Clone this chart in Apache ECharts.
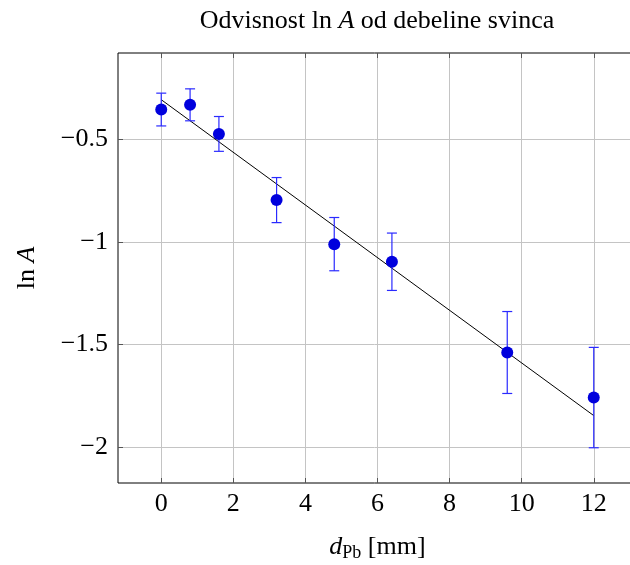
<!DOCTYPE html>
<html>
<head>
<meta charset="utf-8">
<script src="https://cdn.jsdelivr.net/npm/echarts@6/dist/echarts.min.js"></script>
<style>
html,body{margin:0;padding:0;background:#fff;}
#c{width:630px;height:565px;}
</style>
</head>
<body>
<div id="c"></div>
<script>
// Data
const thickness = [0, 0.8, 1.6, 3.2, 4.8, 6.4, 9.6, 12];
const lnA = [-0.353, -0.330, -0.472, -0.795, -1.010, -1.096, -1.539, -1.759];
const lnAErr = [0.080, 0.078, 0.085, 0.110, 0.130, 0.140, 0.200, 0.245];
const fitX = [0, 12];
const fitY = [-0.305, -1.847];
const xTicks = [0, 2, 4, 6, 8, 10, 12];
const yTicks = [-2, -1.5, -1, -0.5];

const FONT = 'Liberation Serif';
const FS = 26;
const fmtNum = v => (v < 0 ? '\u2212' + Math.abs(v) : String(v));

const pts = thickness.map((x, i) => [x, lnA[i]]);
const errData = thickness.map((x, i) => [x, lnA[i] - lnAErr[i], lnA[i] + lnAErr[i]]);
const fitData = fitX.map((x, i) => [x, fitY[i]]);

const chart = echarts.init(document.getElementById('c'), null, {renderer: 'canvas'});
const tickStyle = {show: true, inside: true, length: 5, lineStyle: {color: '#555', width: 1}};
chart.setOption({
  animation: false,
  backgroundColor: '#fff',
  textStyle: {fontFamily: FONT},
  graphic: [{
    type: 'text',
    x: 377, y: 21,
    style: {
      text: 'Odvisnost ln {i|A} od debeline svinca',
      fontFamily: FONT, fontSize: FS, fill: '#000',
      align: 'center', verticalAlign: 'middle',
      rich: {i: {fontStyle: 'italic', fontFamily: FONT, fontSize: FS}}
    }
  }],
  grid: {left: 118, top: 53, height: 430, width: 519, outerBoundsMode: 'none', containLabel: false,
    show: true, borderColor: '#000', borderWidth: 1, backgroundColor: 'transparent'},
  xAxis: [{
    type: 'value', min: -1.2, max: 13.2,
    axisLine: {show: false, onZero: false},
    axisTick: Object.assign({customValues: xTicks}, tickStyle),
    axisLabel: {customValues: xTicks, formatter: fmtNum, fontFamily: FONT, fontSize: FS, color: '#000', margin: 8},
    splitLine: {show: true, lineStyle: {color: '#c4c4c4', width: 1}},
    name: '{i|d}{sub|Pb} [mm]',
    nameLocation: 'middle', nameGap: 49,
    nameTextStyle: {fontFamily: FONT, fontSize: FS, color: '#000',
      rich: {i: {fontStyle: 'italic', fontFamily: FONT, fontSize: FS}, sub: {fontFamily: FONT, fontSize: 18, padding: [12, 0, 0, 0]}}}
  }, {
    type: 'value', min: -1.2, max: 13.2, position: 'top',
    axisLine: {show: false, onZero: false},
    axisTick: Object.assign({customValues: xTicks}, tickStyle),
    axisLabel: {show: false},
    splitLine: {show: false}
  }],
  yAxis: [{
    type: 'value', min: -2.176, max: -0.077,
    axisLine: {show: false, onZero: false},
    axisTick: Object.assign({customValues: yTicks}, tickStyle),
    axisLabel: {customValues: yTicks, formatter: fmtNum, fontFamily: FONT, fontSize: FS, color: '#000', margin: 10},
    splitLine: {show: true, lineStyle: {color: '#c4c4c4', width: 1}},
    name: 'ln {i|A}',
    nameLocation: 'middle', nameGap: 78, nameRotate: 90,
    nameTextStyle: {fontFamily: FONT, fontSize: FS, color: '#000',
      rich: {i: {fontStyle: 'italic', fontFamily: FONT, fontSize: FS}}}
  }],
  series: [{
    type: 'line', data: fitData, symbol: 'none',
    lineStyle: {color: '#000', width: 1}, z: 3
  }, {
    type: 'custom', data: errData, z: 4,
    renderItem: function (params, api) {
      const x = api.value(0);
      const lo = api.coord([x, api.value(1)]);
      const hi = api.coord([x, api.value(2)]);
      const w = 5;
      const st = {stroke: '#2a2aff', lineWidth: 1.2, fill: null};
      return {type: 'group', children: [
        {type: 'line', shape: {x1: lo[0], y1: lo[1], x2: hi[0], y2: hi[1]}, style: st},
        {type: 'line', shape: {x1: lo[0] - w, y1: lo[1], x2: lo[0] + w, y2: lo[1]}, style: st},
        {type: 'line', shape: {x1: hi[0] - w, y1: hi[1], x2: hi[0] + w, y2: hi[1]}, style: st}
      ]};
    }
  }, {
    type: 'scatter', data: pts, symbol: 'circle', symbolSize: 12, z: 5,
    itemStyle: {color: '#0000dd', opacity: 1}
  }]
});
</script>
</body>
</html>
